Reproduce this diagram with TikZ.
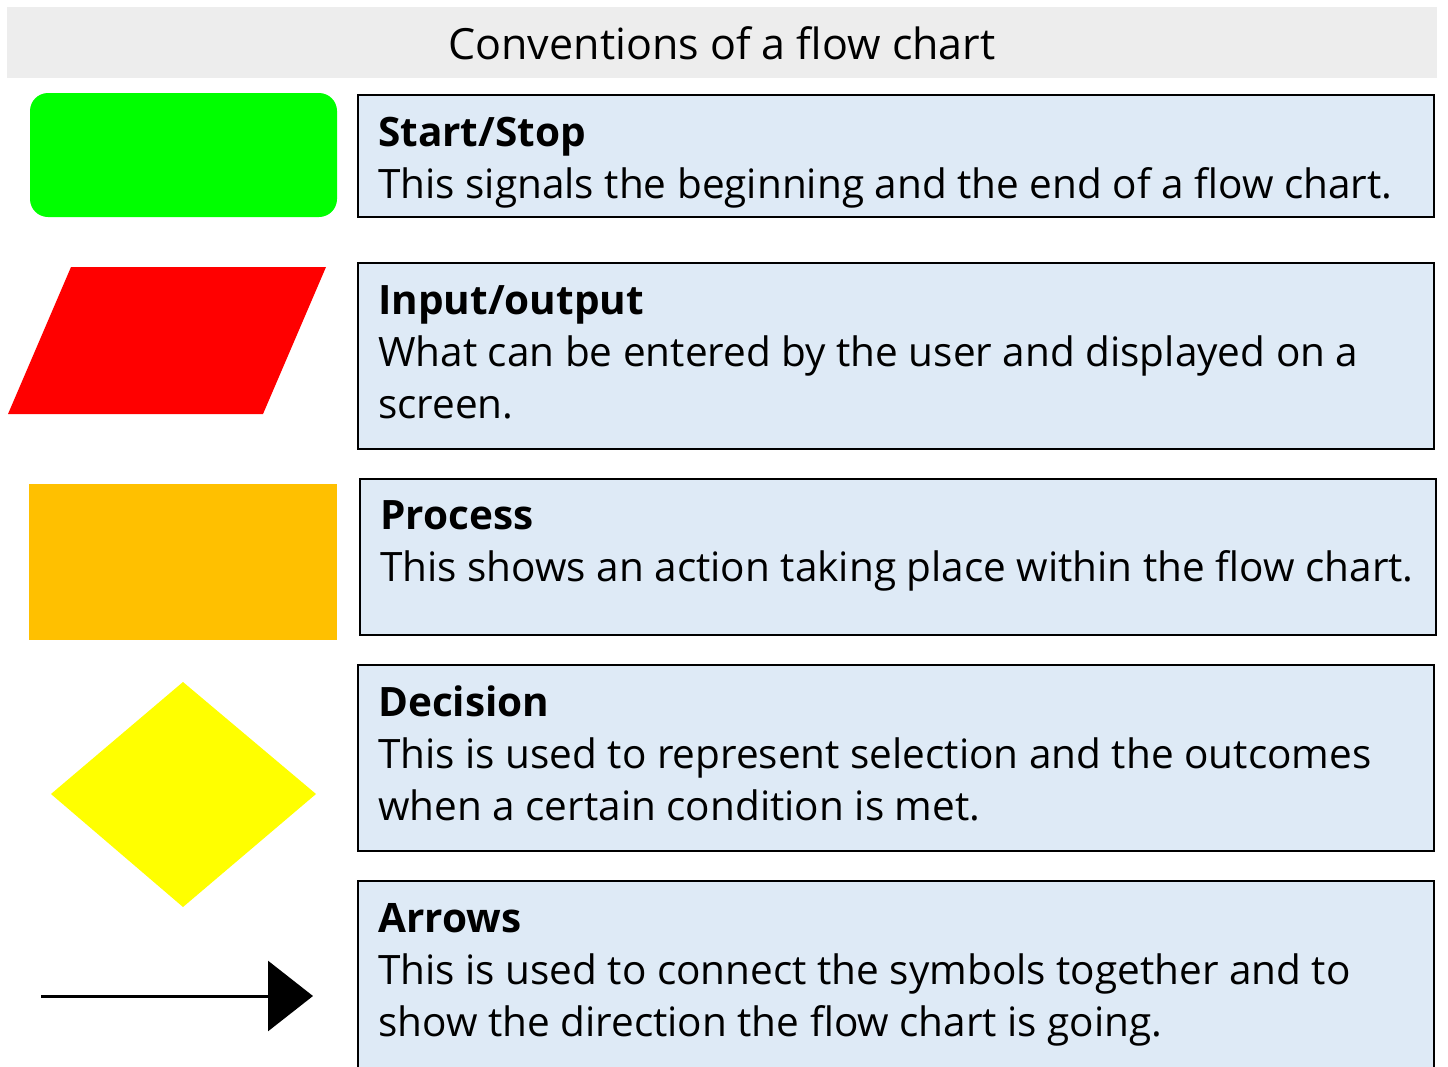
\documentclass[tikz,border=0pt]{standalone}
\usepackage{fontspec}
\setmainfont{Open Sans}
\usetikzlibrary{arrows.meta}
\definecolor{titlegray}{RGB}{237,237,237}
\definecolor{boxblue}{RGB}{222,234,246}
\definecolor{startgreen}{RGB}{0,255,0}
\definecolor{iored}{RGB}{255,0,0}
\definecolor{procorange}{RGB}{255,192,0}
\definecolor{decyellow}{RGB}{255,255,0}
\tikzset{
  descbox/.style={draw=black, line width=2.5pt, fill=boxblue},
  head/.style={anchor=base west, inner sep=0pt, font=\fontsize{40.5}{48}\selectfont\bfseries},
  body/.style={anchor=base west, inner sep=0pt, font=\fontsize{40.5}{48}\selectfont},
}
\begin{document}
\begin{tikzpicture}[x=1pt,y=-1pt]
\useasboundingbox (0,0) rectangle (1448,1066);
% title bar
\fill[titlegray] (7,7) rectangle (1437,78);
\node[anchor=base, inner sep=0pt, font=\fontsize{43}{50}\selectfont] (title) at (722,59) {Conventions of a flow chart};

% left symbols
\fill[startgreen, rounded corners=18pt] (30,93) rectangle (337,217);
\fill[iored] (71,267) -- (326,267) -- (263,414) -- (8,414) -- cycle;
\fill[procorange] (29,484) rectangle (337,640);
\fill[decyellow] (183,682) -- (316,794) -- (183,907) -- (51,794) -- cycle;
\coordinate (arrs) at (41,996);
\coordinate (arre) at (313,996);
\draw[line width=3pt, -{Triangle[length=45pt,width=70pt]}] (arrs) -- (arre);

% description boxes
\draw[descbox] (358,95) rectangle (1434,217);
\node[head] (h1) at (378,146) {Start/Stop};
\node[body] (b1) at (378,198) {This signals the beginning and the end of a flow chart.};

\draw[descbox] (358,263) rectangle (1434,449);
\node[head] (h2) at (378,314) {Input/output};
\node[body] (b2a) at (378,366) {What can be entered by the user and displayed on a};
\node[body] (b2b) at (378,418) {screen.};

\draw[descbox] (360,479) rectangle (1436,635);
\node[head] (h3) at (380,529) {Process};
\node[body] (b3) at (380,581) {This shows an action taking place within the flow chart.};

\draw[descbox] (358,665) rectangle (1434,851);
\node[head] (h4) at (378,716) {Decision};
\node[body] (b4a) at (378,768) {This is used to represent selection and the outcomes};
\node[body] (b4b) at (378,820) {when a certain condition is met.};

\draw[descbox] (358,881) rectangle (1434,1070);
\node[head] (h5) at (378,932) {Arrows};
\node[body] (b5a) at (378,984) {This is used to connect the symbols together and to};
\node[body] (b5b) at (378,1036) {show the direction the flow chart is going.};
\end{tikzpicture}
\end{document}
